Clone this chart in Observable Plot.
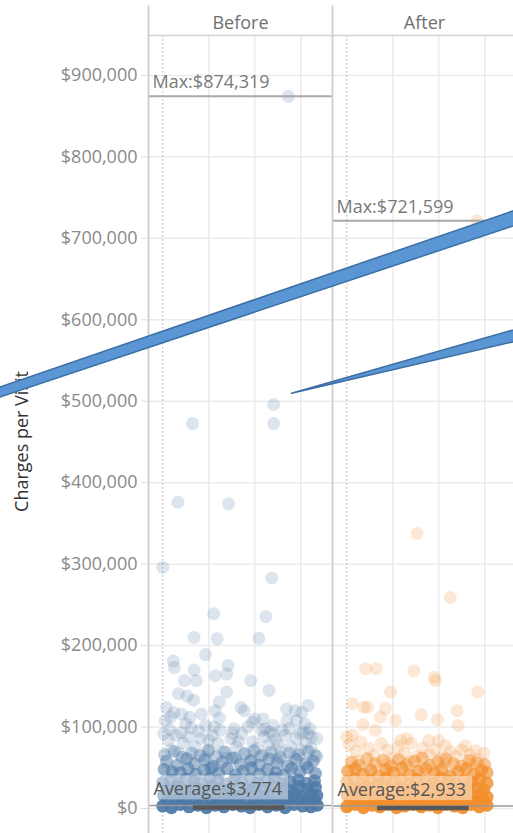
<!DOCTYPE html>
<html>
<head>
<meta charset="utf-8">
<script src="https://cdn.jsdelivr.net/npm/d3@7"></script>
<script src="https://cdn.jsdelivr.net/npm/@observablehq/plot@0.6"></script>
<style>
  html, body { margin: 0; padding: 0; background: #fff; overflow: hidden; }
</style>
</head>
<body>
<div id="chart"></div>
<script>
// ---------- DATA ----------
const periods = ["Before", "After"];
const periodColors = ["#4e79a7", "#f28e2b"];
const yTicks = [0, 100, 200, 300, 400, 500, 600, 700, 800, 900]; // $K
const xGrid = [1, 2, 3];
const maxCharges = [874.319, 721.599]; // $K
const avgCharges = [3.774, 2.933];     // $K
const axisTitle = "Charges per Visit";

// [jitter, charges ($K), number of overlapping visits]
const beforePoints = [
  [2.73, 874.3, 1], [2.41, 496, 1], [2.41, 472.6, 1], [0.65, 472.6, 1], [0.33, 376, 1],
  [1.43, 374, 1], [0.0, 296, 1], [2.37, 283, 1], [1.11, 239, 1], [2.24, 235.5, 1],
  [0.68, 210, 1], [1.18, 208.5, 1], [2.09, 209, 1], [0.93, 189, 1], [0.23, 181, 1],
  [0.25, 173, 1], [0.68, 170, 1], [1.42, 175.7, 1], [1.39, 165, 1], [1.14, 163, 1],
  [0.47, 157, 1], [0.73, 157, 1], [1.91, 157, 1], [2.31, 145, 1], [1.39, 143, 1],
  [0.34, 141, 1], [0.53, 138, 1], [0.67, 133, 1], [0.08, 124, 1], [1.23, 130.6, 1],
  [1.70, 124, 1], [1.77, 120, 1], [3.16, 126.5, 1], [2.69, 122, 1], [2.88, 120, 1],
  [3.02, 118, 1], [0.41, 116, 1], [0.59, 112, 1], [0.84, 116, 1], [1.14, 120, 1],
  [1.23, 111, 1], [2.0, 110, 1], [2.18, 110, 1], [0.05, 108, 1], [0.24, 118, 1],
  [0.17, 112, 1], [2.40, 102, 1], [2.33, 94, 1], [2.70, 108, 1], [2.91, 108, 1],
  [3.09, 104, 1], [3.16, 92, 1], [3.23, 88, 1], [0.93, 102, 1], [1.55, 98, 1],
  [1.85, 100, 1], [2.60, 96, 1],
  [0.15, 97, 1], [0.40, 93, 1], [0.62, 99, 1], [0.78, 95, 1], [1.0, 84, 1],
  [1.25, 96, 1], [1.52, 92, 1], [1.65, 82, 1], [2.15, 96, 1], [2.40, 91, 1],
  [2.52, 78, 1], [2.75, 98, 1], [2.98, 92, 1], [3.20, 98, 1], [3.35, 86, 1],
  [1.12, 100, 1], [0.50, 104, 1], [1.95, 106, 1], [2.22, 98, 1],
  [0.02, 92, 1], [0.12, 84, 1], [0.28, 90, 1], [0.45, 80, 1], [0.55, 88, 1],
  [0.70, 76, 1], [0.82, 86, 1], [0.98, 72, 1], [1.08, 90, 1], [1.20, 80, 1],
  [1.32, 70, 1], [1.48, 86, 1], [1.60, 76, 1], [1.72, 92, 1], [1.80, 68, 1],
  [1.95, 82, 1], [2.05, 74, 1], [2.20, 88, 1], [2.30, 78, 1], [2.45, 84, 1],
  [2.55, 70, 1], [2.66, 90, 1], [2.78, 76, 1], [2.90, 86, 1], [3.00, 72, 1],
  [3.12, 80, 1], [3.22, 74, 1], [3.30, 66, 1], [0.35, 68, 1], [0.90, 64, 1],
  [1.40, 62, 1], [2.12, 64, 1], [2.85, 62, 1], [0.18, 72, 1], [1.90, 58, 1],
  [2.50, 60, 1], [3.05, 94, 1],
  [0.04, 66, 2], [0.25, 70, 2], [0.42, 63, 2], [0.63, 68, 2], [0.80, 65, 2],
  [1.0, 71, 2], [1.17, 64, 2], [1.36, 69, 2], [1.58, 62, 2], [1.77, 67, 2],
  [1.98, 71, 2], [2.16, 65, 2], [2.36, 69, 2], [2.56, 63, 2], [2.75, 68, 2],
  [2.96, 66, 2], [3.16, 70, 2], [3.34, 64, 2],
  [0.08, 58, 3], [0.31, 53, 3], [0.52, 61, 3], [0.69, 55, 3], [0.92, 60, 3],
  [1.10, 52, 3], [1.29, 57, 3], [1.51, 62, 3], [1.68, 54, 3], [1.92, 59, 3],
  [2.10, 53, 3], [2.31, 61, 3], [2.49, 56, 3], [2.72, 52, 3], [2.90, 60, 3],
  [3.11, 55, 3], [3.27, 58, 3],
  [0.03, 48, 4], [0.20, 45, 4], [0.38, 44, 4], [0.55, 49, 4], [0.72, 42, 4],
  [0.90, 47, 4], [1.05, 50, 4], [1.22, 43, 4], [1.40, 49, 4], [1.58, 41, 4],
  [1.75, 46, 4], [1.93, 50, 4], [2.10, 42, 4], [2.28, 48, 4], [2.46, 44, 4],
  [2.62, 41, 4], [2.80, 49, 4], [2.98, 45, 4], [3.15, 50, 4], [3.32, 43, 4],
  [0.0, 32, 6], [0.17, 35, 6], [0.34, 30, 6], [0.50, 36, 6], [0.68, 33, 6],
  [0.85, 31, 6], [1.02, 37, 6], [1.20, 34, 6], [1.37, 30, 6], [1.55, 35, 6],
  [1.72, 32, 6], [1.90, 36, 6], [2.07, 31, 6], [2.25, 34, 6], [2.42, 37, 6],
  [2.60, 30, 6], [2.77, 33, 6], [2.95, 35, 6], [3.12, 31, 6], [3.30, 34, 6],
  [0.10, 24, 8], [0.30, 27, 8], [0.49, 22, 8], [0.68, 26, 8], [0.87, 23, 8],
  [1.06, 28, 8], [1.25, 25, 8], [1.44, 22, 8], [1.63, 27, 8], [1.82, 24, 8],
  [2.01, 26, 8], [2.20, 23, 8], [2.39, 28, 8], [2.58, 25, 8], [2.77, 22, 8],
  [2.96, 27, 8], [3.15, 24, 8], [3.32, 26, 8],
  [0.02, 16, 9], [0.22, 19, 9], [0.41, 14, 9], [0.60, 18, 9], [0.79, 15, 9],
  [0.98, 20, 9], [1.16, 14, 9], [1.35, 18, 9], [1.54, 15, 9], [1.73, 17, 9],
  [1.91, 20, 9], [2.10, 14, 9], [2.29, 18, 9], [2.48, 16, 9], [2.67, 15, 9],
  [2.86, 19, 9], [3.05, 14, 9], [3.22, 17, 9], [3.35, 16, 9],
  [0.10, 9, 10], [0.29, 11, 10], [0.48, 8, 10], [0.67, 12, 10], [0.86, 10, 10],
  [1.05, 7, 10], [1.24, 11, 10], [1.43, 9, 10], [1.62, 12, 10], [1.81, 8, 10],
  [2.0, 10, 10], [2.19, 12, 10], [2.38, 7, 10], [2.57, 11, 10], [2.76, 9, 10],
  [2.95, 12, 10], [3.14, 8, 10], [3.30, 10, 10],
  [0.0, 3, 12], [0.19, 1, 12], [0.38, 5, 12], [0.57, 2, 12], [0.76, 4, 12],
  [0.95, 1, 12], [1.14, 4, 12], [1.33, 2, 12], [1.52, 5, 12], [1.71, 3, 12],
  [1.90, 1, 12], [2.09, 5, 12], [2.28, 2, 12], [2.47, 4, 12], [2.66, 1, 12],
  [2.85, 5, 12], [3.04, 3, 12], [3.22, 2, 12], [3.36, 4, 12]
];

const afterPoints = [
  [2.83, 721.6, 1], [1.53, 337.5, 1], [2.25, 259, 1], [0.41, 171.6, 1], [0.64, 171.6, 1],
  [1.46, 168.7, 1], [1.90, 161, 1], [1.93, 157, 1], [2.85, 143, 1], [0.95, 143, 1],
  [0.12, 128.6, 1], [0.37, 124.4, 1], [0.45, 124.4, 1], [0.84, 122.5, 1], [0.73, 112, 1],
  [1.06, 108, 1], [1.62, 115, 1], [1.97, 109, 1], [2.40, 120, 1], [2.42, 102, 1],
  [0.35, 103, 1], [0.62, 96, 1], [0.12, 90, 1], [0.0, 88, 1], [1.17, 83.5, 1],
  [1.31, 85.6, 1], [1.78, 83.5, 1], [2.0, 83.5, 1], [2.15, 77, 1], [2.58, 77, 1],
  [2.80, 71, 1],
  [0.05, 78, 1], [0.20, 70, 1], [0.30, 82, 1], [0.48, 74, 1], [0.60, 66, 1],
  [0.75, 80, 1], [0.88, 72, 1], [1.0, 62, 1], [1.12, 76, 1], [1.25, 68, 1],
  [1.40, 80, 1], [1.52, 64, 1], [1.65, 74, 1], [1.80, 66, 1], [1.92, 72, 1],
  [2.05, 62, 1], [2.25, 70, 1], [2.38, 64, 1], [2.50, 72, 1], [2.68, 66, 1],
  [2.85, 60, 1], [2.98, 68, 1], [0.25, 58, 1], [1.35, 57, 1], [2.15, 56, 1],
  [2.70, 55, 1], [0.90, 56, 1],
  [0.10, 57, 3], [0.27, 53, 3], [0.44, 61, 3], [0.62, 55, 3], [0.79, 59, 3],
  [0.96, 52, 3], [1.13, 60, 3], [1.30, 54, 3], [1.47, 58, 3], [1.64, 62, 3],
  [1.81, 53, 3], [1.98, 57, 3], [2.15, 61, 3], [2.32, 55, 3], [2.49, 52, 3],
  [2.66, 59, 3], [2.83, 56, 3], [3.0, 54, 3],
  [0.02, 46, 5], [0.18, 49, 5], [0.35, 42, 5], [0.52, 47, 5], [0.68, 40, 5],
  [0.85, 48, 5], [1.02, 44, 5], [1.20, 50, 5], [1.37, 41, 5], [1.55, 46, 5],
  [1.72, 49, 5], [1.90, 43, 5], [2.07, 48, 5], [2.25, 40, 5], [2.42, 45, 5],
  [2.60, 49, 5], [2.77, 42, 5], [2.93, 47, 5], [3.05, 44, 5],
  [0.0, 33, 7], [0.17, 36, 7], [0.34, 31, 7], [0.51, 34, 7], [0.68, 30, 7],
  [0.85, 37, 7], [1.02, 32, 7], [1.19, 35, 7], [1.36, 30, 7], [1.53, 36, 7],
  [1.70, 33, 7], [1.87, 31, 7], [2.04, 37, 7], [2.21, 34, 7], [2.38, 30, 7],
  [2.55, 35, 7], [2.72, 32, 7], [2.89, 36, 7], [3.05, 31, 7],
  [0.09, 25, 8], [0.26, 22, 8], [0.43, 27, 8], [0.60, 24, 8], [0.77, 28, 8],
  [0.94, 23, 8], [1.11, 26, 8], [1.28, 22, 8], [1.45, 27, 8], [1.62, 25, 8],
  [1.79, 23, 8], [1.96, 28, 8], [2.13, 24, 8], [2.30, 26, 8], [2.47, 22, 8],
  [2.64, 27, 8], [2.81, 25, 8], [2.98, 23, 8],
  [0.01, 16, 9], [0.20, 14, 9], [0.38, 19, 9], [0.56, 15, 9], [0.74, 18, 9],
  [0.92, 14, 9], [1.10, 20, 9], [1.28, 16, 9], [1.46, 14, 9], [1.64, 17, 9],
  [1.82, 15, 9], [2.0, 19, 9], [2.18, 14, 9], [2.36, 16, 9], [2.54, 20, 9],
  [2.72, 15, 9], [2.90, 17, 9], [3.05, 14, 9],
  [0.09, 10, 10], [0.27, 8, 10], [0.45, 12, 10], [0.63, 9, 10], [0.81, 11, 10],
  [0.99, 7, 10], [1.17, 10, 10], [1.35, 12, 10], [1.53, 8, 10], [1.71, 11, 10],
  [1.89, 9, 10], [2.07, 12, 10], [2.25, 7, 10], [2.43, 10, 10], [2.61, 11, 10],
  [2.79, 8, 10], [2.97, 10, 10],
  [0.0, 2, 12], [0.18, 5, 12], [0.36, 1, 12], [0.54, 4, 12], [0.72, 2, 12],
  [0.90, 5, 12], [1.08, 1, 12], [1.26, 3, 12], [1.44, 5, 12], [1.62, 2, 12],
  [1.80, 4, 12], [1.98, 1, 12], [2.16, 5, 12], [2.34, 3, 12], [2.52, 1, 12],
  [2.70, 5, 12], [2.88, 2, 12], [3.05, 4, 12]
];

// dark marker under the average label (jitter span)
const avgBarSpan = [0.67, 2.66];

// callout arrows drawn over the chart (in the Before panel's jitter / $K units)
const bigArrowX = [-3.96, 8.21];
const bigArrowLow = [496.4, 725.6];
const bigArrowHigh = [508.4, 744.4];
const smallArrowX = [2.81, 8.21];
const smallArrowLow = [509.2, 579.9];
const smallArrowHigh = [509.2, 596.3];

// ---------- BUILD TABLES ----------
const rows = [];
[beforePoints, afterPoints].forEach((pts, i) => {
  for (const [jitter, charges, count] of pts) rows.push({period: periods[i], jitter, charges, count});
});
const refs = periods.map((p, i) => ({period: p, max: maxCharges[i], avg: avgCharges[i]}));
const bigArrow = bigArrowX.map((x, i) => ({period: "Before", x, lo: bigArrowLow[i], hi: bigArrowHigh[i]}));
const smallArrow = smallArrowX.map((x, i) => ({period: "Before", x, lo: smallArrowLow[i], hi: smallArrowHigh[i]}));
const avgBars = refs.map(d => ({...d, x1: avgBarSpan[0], x2: avgBarSpan[1]}));

const money = v => d3.format("$,")(Math.round(v * 1000));
const dotAlpha = 0.2;
const xDomain = [-0.31, 3.69];
const yDomain = [-30.7, 949];
const headerTop = 985;
const font = "'Open Sans', sans-serif";

const plot = Plot.plot({
  width: 516,
  height: 833,
  marginLeft: 148,
  marginRight: 0,
  marginTop: 35,
  marginBottom: 0,
  style: {fontFamily: font, fontSize: "18px", background: "white", maxWidth: "none", overflow: "visible"},
  fx: {domain: periods, padding: 0, label: null},
  x: {domain: xDomain, axis: null},
  y: {domain: yDomain, axis: null},
  color: {domain: periods, range: periodColors},
  opacity: {type: "linear", domain: [0, 1], range: [0, 1]},
  marks: [
    Plot.gridY(yTicks, {stroke: "#ebebeb", strokeWidth: 1.5, strokeOpacity: 1}),
    Plot.gridX(xGrid, {stroke: "#ebebeb", strokeWidth: 1.5, strokeOpacity: 1}),
    Plot.ruleX([0], {stroke: "#b0b0b0", strokeWidth: 1, strokeDasharray: "1.5,2.5"}),
    Plot.dot(rows, {
      fx: "period", x: "jitter", y: "charges", fill: "period", r: 6.5, stroke: null,
      fillOpacity: d => 1 - Math.pow(1 - dotAlpha, d.count)
    }),
    Plot.ruleY(refs, {fx: "period", y: "avg", stroke: "#9a9a9a", strokeWidth: 1.5}),
    Plot.ruleY(avgBars, {fx: "period", y: "avg", x1: "x1", x2: "x2", stroke: "#585858", strokeWidth: 4.5, dy: 2}),
    Plot.text(refs, {
      fx: "period", y: "avg", text: d => "Average:" + money(d.avg),
      frameAnchor: "left", textAnchor: "start", lineAnchor: "bottom",
      dx: 5, dy: -10, fontSize: 18, fill: "#555", ariaDescription: "avg-label"
    }),
    Plot.ruleY(refs, {fx: "period", y: "max", stroke: "#a8a8a8", strokeWidth: 2}),
    Plot.text(refs, {
      fx: "period", y: "max", text: d => "Max:" + money(d.max),
      frameAnchor: "left", textAnchor: "start", lineAnchor: "bottom",
      dx: 4, dy: -8, fontSize: 18, fill: "#7a7a7a"
    }),
    Plot.ruleX([xDomain[0]], {y1: yDomain[0], y2: headerTop, stroke: "#d2d2d2", strokeWidth: 2}),
    Plot.ruleY([yDomain[1]], {stroke: "#d2d2d2", strokeWidth: 1.5}),
    Plot.axisY(yTicks, {
      anchor: "left", tickSize: 7, tickPadding: 4, fontSize: 18,
      fill: "#8a8a8a", stroke: "#dcdcdc", tickFormat: d => d3.format("$,")(d * 1000), label: null
    }),
    Plot.axisFx({anchor: "top", tickSize: 0, tickPadding: 7, fontSize: 18, fill: "#707070", label: null}),
    Plot.text([{period: "Before", t: axisTitle}], {
      fx: "period", text: "t", frameAnchor: "left", textAnchor: "middle", rotate: -90, dx: -126, dy: 7,
      fontSize: 18, fill: "#333"
    }),
    Plot.areaY(bigArrow, {fx: "period", x: "x", y1: "lo", y2: "hi", fill: "#5a96d3", stroke: "#3d6ea4", strokeWidth: 1.5}),
    Plot.areaY(smallArrow, {fx: "period", x: "x", y1: "lo", y2: "hi", fill: "#5a96d3", stroke: "#3d6ea4", strokeWidth: 1.5})
  ]
});

document.getElementById("chart").append(plot);

// translucent box behind the average labels, sized from the text itself
plot.querySelectorAll('g[aria-description="avg-label"] text').forEach(t => {
  const b = t.getBBox();
  const r = document.createElementNS("http://www.w3.org/2000/svg", "rect");
  r.setAttribute("x", b.x - 2);
  r.setAttribute("y", b.y - 1);
  r.setAttribute("width", b.width + 8);
  r.setAttribute("height", b.height);
  r.setAttribute("fill", "white");
  r.setAttribute("fill-opacity", 0.45);
  if (t.getAttribute("transform")) r.setAttribute("transform", t.getAttribute("transform"));
  t.parentNode.insertBefore(r, t);
});
</script>
</body>
</html>
